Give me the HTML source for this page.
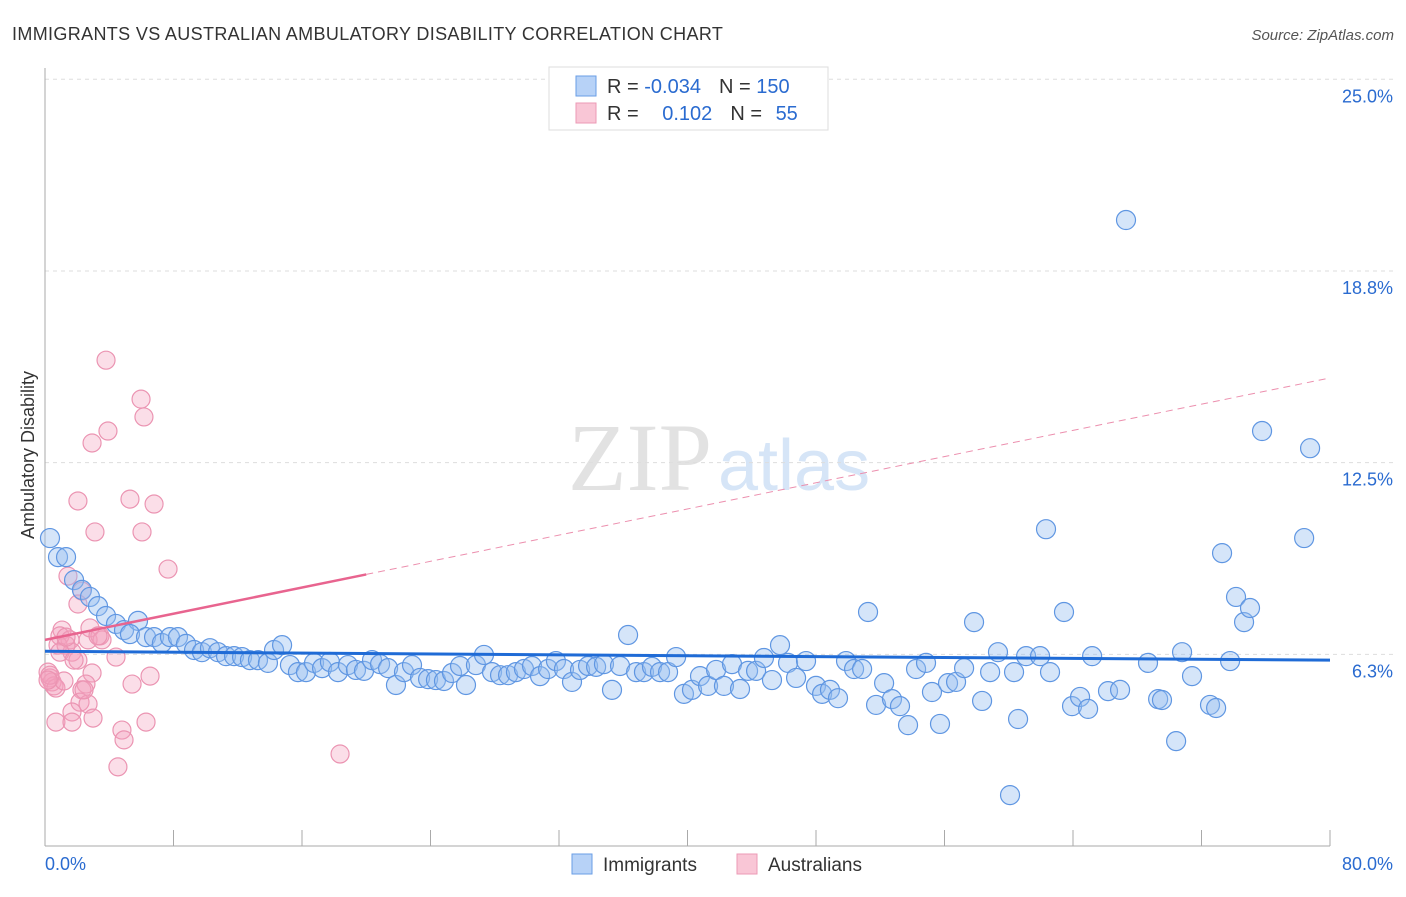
<!DOCTYPE html>
<html><head><meta charset="utf-8"><style>
body{margin:0;background:#fff;font-family:"Liberation Sans",sans-serif}
svg text{font-family:"Liberation Sans",sans-serif}
</style></head><body>
<svg id="c" width="1406" height="892" xmlns="http://www.w3.org/2000/svg">
<text x="12" y="40" font-size="18" fill="#333" letter-spacing="0.35">IMMIGRANTS VS AUSTRALIAN AMBULATORY DISABILITY CORRELATION CHART</text>
<text x="1394" y="40" font-size="15" fill="#555" text-anchor="end" font-style="italic">Source: ZipAtlas.com</text>
<g>
<text x="712" y="490" font-size="96" fill="#e2e2e2" text-anchor="end" style="font-family:'Liberation Serif',serif">ZIP</text>
<text x="718" y="490" font-size="72" fill="#d6e5f7">atlas</text>
</g>
<g id="grid"></g><g id="axes"></g><g id="pts"></g><g id="trend"></g>
<text x="34" y="455" font-size="18" fill="#333" text-anchor="middle" transform="rotate(-90 34 455)">Ambulatory Disability</text>
<g>
<rect x="549" y="67" width="279" height="63" fill="#fff" stroke="#ddd"/>
<rect x="576" y="76" width="20" height="20" fill="#b7d2f7" stroke="#6a9ee6"/>
<rect x="576" y="103" width="20" height="20" fill="#f9c6d6" stroke="#ec9ab5"/>
<text x="607" y="93" font-size="20" fill="#333">R = <tspan fill="#2a6bd0">-0.034</tspan><tspan dx="18">N = </tspan><tspan fill="#2a6bd0">150</tspan></text>
<text x="607" y="120" font-size="20" fill="#333">R = <tspan fill="#2a6bd0" dx="18">0.102</tspan><tspan dx="18">N = </tspan><tspan fill="#2a6bd0" dx="8">55</tspan></text>
</g>
<g>
<rect x="572" y="854" width="20" height="20" fill="#b7d2f7" stroke="#6a9ee6"/>
<text x="603" y="871" font-size="19" fill="#333">Immigrants</text>
<rect x="737" y="854" width="20" height="20" fill="#f9c6d6" stroke="#ec9ab5"/>
<text x="768" y="871" font-size="19" fill="#333">Australians</text>
</g>
</svg>
<script>
const blueX=[0.31,0.81,1.31,1.81,2.30,2.80,3.30,3.80,4.42,4.92,5.79,5.29,6.29,6.79,7.28,7.78,8.28,8.78,9.28,9.77,10.27,10.77,11.27,11.77,12.27,12.76,13.26,13.88,14.26,14.76,15.25,15.75,16.25,16.75,17.25,17.74,18.24,18.86,19.36,19.86,20.36,20.86,21.36,21.85,22.35,22.85,23.35,23.85,24.34,24.84,25.34,25.84,26.21,26.83,27.33,27.83,28.33,28.83,29.32,29.82,30.32,30.82,31.32,31.81,32.31,32.81,33.31,33.81,34.31,34.80,35.30,35.80,36.30,36.80,37.29,37.79,38.29,38.79,39.29,39.78,40.28,40.78,41.28,41.78,42.27,42.77,43.27,43.77,44.27,44.76,45.26,45.76,46.26,46.76,47.38,48.00,48.38,48.87,49.37,49.87,50.37,50.87,51.24,51.74,52.24,52.73,53.23,53.73,54.23,54.85,55.22,55.72,56.22,56.72,57.22,57.84,58.34,58.84,59.33,60.08,60.33,60.58,61.08,61.95,62.32,62.57,63.44,63.94,64.44,64.94,65.19,66.18,66.93,67.30,68.67,69.30,69.54,70.42,70.79,71.41,72.53,72.91,73.28,73.78,74.15,74.65,75.02,75.77,78.39,78.76];
const blueY=[10.04,9.42,9.42,8.67,8.35,8.12,7.82,7.50,7.24,7.04,7.34,6.91,6.81,6.81,6.62,6.81,6.81,6.59,6.39,6.32,6.45,6.32,6.19,6.19,6.16,6.06,6.06,5.97,6.39,6.55,5.90,5.67,5.67,5.97,5.80,6.00,5.67,5.90,5.74,5.71,6.06,5.93,5.80,5.25,5.67,5.90,5.48,5.44,5.41,5.38,5.64,5.87,5.25,5.90,6.23,5.67,5.57,5.57,5.67,5.77,5.87,5.54,5.77,6.03,5.77,5.35,5.74,5.87,5.84,5.93,5.09,5.87,6.88,5.67,5.67,5.84,5.67,5.67,6.16,4.96,5.09,5.54,5.22,5.74,5.22,5.93,5.12,5.71,5.71,6.13,5.41,6.55,5.97,5.48,6.03,5.22,4.96,5.09,4.82,6.03,5.77,5.77,7.63,4.60,5.31,4.79,4.56,3.94,5.77,5.97,5.02,3.98,5.31,5.35,5.80,7.30,4.73,5.67,6.32,1.66,5.67,4.14,6.19,6.19,10.33,5.67,7.63,4.56,4.86,4.47,6.19,5.05,5.09,20.41,5.97,4.79,4.76,3.42,6.32,5.54,4.60,4.50,9.55,6.03,8.12,7.30,7.76,13.53,10.04,12.97];
const pinkX=[3.80,5.98,6.16,3.92,2.93,2.05,5.29,6.79,3.11,6.04,7.66,1.43,2.30,2.05,1.06,0.93,1.56,0.81,1.68,2.05,1.31,2.80,2.68,3.42,3.55,2.93,4.42,0.19,0.31,0.44,0.56,0.68,2.55,2.30,1.18,2.18,2.68,5.42,6.54,1.68,0.68,1.68,2.99,4.79,4.92,6.29,4.54,18.37,0.93,1.81,0.31,0.19,2.43,3.30,1.31];
const pinkY=[15.84,14.57,13.99,13.53,13.14,11.25,11.31,11.15,10.24,10.24,9.03,8.80,8.31,7.89,7.04,6.85,6.72,6.55,6.32,6.06,6.55,7.11,6.72,6.85,6.72,5.64,6.16,5.67,5.48,5.35,5.22,5.15,5.28,5.09,5.38,4.69,4.63,5.28,5.54,4.37,4.04,4.04,4.17,3.78,3.46,4.04,2.58,3.00,6.32,6.06,5.57,5.41,5.09,6.85,6.81];
const yTicks=[6.25,12.5,18.75,25];
const yTickLabels=["6.3%","12.5%","18.8%","25.0%"];
const blueTrend=[6.35,6.06];
const pinkTrend=[6.72,15.26];
const pinkSolidEnd=20;
const X=v=>45+v/80*1285, Y=v=>846-v*30.67;
const NS="http://www.w3.org/2000/svg";
function mk(t,a,p){const e=document.createElementNS(NS,t);for(const k in a)e.setAttribute(k,a[k]);p.appendChild(e);return e;}
const grid=document.getElementById('grid'),axes=document.getElementById('axes');
yTicks.forEach((v,i)=>{
 const l=mk('line',{x1:45,x2:1394,y1:Y(v),y2:Y(v),stroke:'#ddd','stroke-dasharray':'4 4'},grid);
 
 
 const t=mk('text',{x:1393,y:Y(v)+23,'font-size':18,fill:'#2a6bd0','text-anchor':'end'},axes);
 t.textContent=yTickLabels[i];
 
 
});
const ya=mk('line',{x1:45,x2:45,y1:68,y2:846,stroke:'#aaa'},axes);


const xa=mk('line',{x1:45,x2:1330,y1:846,y2:846,stroke:'#aaa'},axes);


for(let i=0;i<=10;i++){const tk=mk('line',{x1:X(i*8),x2:X(i*8),y1:830,y2:846,stroke:'#aaa'},axes);
 
 }
const t0=mk('text',{x:45,y:870,'font-size':18,fill:'#2a6bd0'},axes);t0.textContent='0.0%';


const t1=mk('text',{x:1393,y:870,'font-size':18,fill:'#2a6bd0','text-anchor':'end'},axes);t1.textContent='80.0%';


const pts=document.getElementById('pts');
pinkX.forEach((x,i)=>{const c=mk('circle',{cx:X(x),cy:Y(pinkY[i]),r:9,fill:'rgba(244,160,190,0.35)',stroke:'#eb94b2','stroke-width':1.2},pts);
 
 });
blueX.forEach((x,i)=>{const c=mk('circle',{cx:X(x),cy:Y(blueY[i]),r:9.5,fill:'rgba(150,190,240,0.4)',stroke:'#5f96e2','stroke-width':1.2},pts);
 
 });
const tr=document.getElementById('trend');
const pAt=x=>pinkTrend[0]+(pinkTrend[1]-pinkTrend[0])*x/80;
const bl=mk('line',{x1:X(0),y1:Y(blueTrend[0]),x2:X(80),y2:Y(blueTrend[1]),stroke:'#1f6bd6','stroke-width':3},tr);


const ps=mk('line',{x1:X(0),y1:Y(pAt(0)),x2:X(pinkSolidEnd),y2:Y(pAt(pinkSolidEnd)),stroke:'#e8648f','stroke-width':2.5},tr);


const pd=mk('line',{x1:X(pinkSolidEnd),y1:Y(pAt(pinkSolidEnd)),x2:X(80),y2:Y(pAt(80)),stroke:'#ec8fae','stroke-width':1,'stroke-dasharray':'7 5'},tr);


</script>
</body></html>
